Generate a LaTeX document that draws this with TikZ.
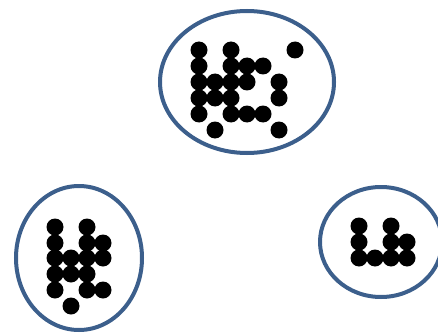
\documentclass[tikz,border=0pt]{standalone}
\usetikzlibrary{shapes.geometric}
\definecolor{ringblue}{RGB}{60,95,140}
\tikzset{
  ring/.style={ellipse, draw=ringblue, line width=4pt, inner sep=0pt},
  dot/.style={circle, fill=black, inner sep=0pt, minimum size=17pt}
}
\begin{document}
\begin{tikzpicture}[x=1pt,y=-1pt]
\useasboundingbox (0,0) rectangle (438,334);
\clip (0,0) rectangle (438,334);
% top cluster
\node[ring, minimum width=174pt, minimum height=142pt] (rtop) at (247,82) {};
\foreach \x/\y [count=\i] in {199/50,231/50,295/50,
  199/66,231/66,247/66,263/66,
  199/82,215/82,231/82,247/82,279/82,
  199/98,215/98,231/98,279/98,
  199/114,231/114,247/114,263/114,
  215/130,279/130}
  \node[dot] (t\i) at (\x,\y) {};
% bottom-left cluster
\node[ring, minimum width=126pt, minimum height=144pt] (rleft) at (79,258) {};
\foreach \x/\y [count=\i] in {55/227,87/227,
  55/243,87/243,103/243,
  55/258,71/258,87/258,103/258,
  55/274,71/274,87/274,
  55/290,87/290,103/290,
  71/306}
  \node[dot] (l\i) at (\x,\y) {};
% bottom-right cluster
\node[ring, minimum width=122pt, minimum height=110pt] (rright) at (381,242) {};
\foreach \x/\y [count=\i] in {359/226,391/226,
  359/242,391/242,407/242,
  359/258,375/258,391/258,407/258}
  \node[dot] (r\i) at (\x,\y) {};
\end{tikzpicture}
\end{document}
